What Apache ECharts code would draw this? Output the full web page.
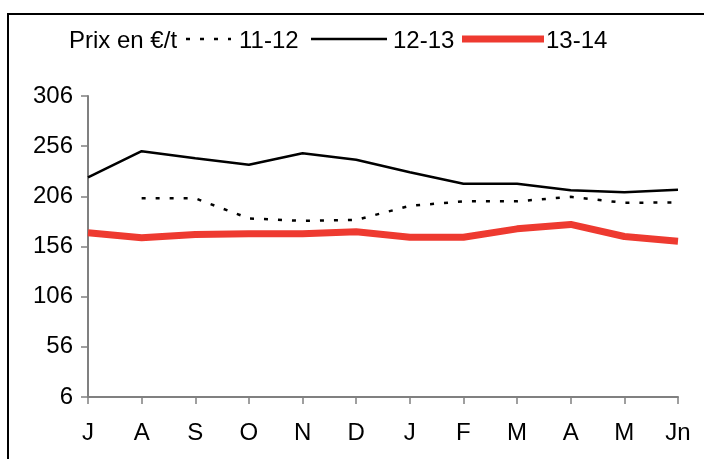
<!DOCTYPE html>
<html>
<head>
<meta charset="utf-8">
<script src="https://cdn.jsdelivr.net/npm/echarts@6/dist/echarts.min.js"></script>
<style>
  html, body { margin: 0; padding: 0; background: #fff; }
  #chart { width: 704px; height: 459px; }
</style>
</head>
<body>
<div id="chart"></div>
<script>
// Monthly prices (€/t) over three marketing years, July to June
const months = ['J', 'A', 'S', 'O', 'N', 'D', 'J', 'F', 'M', 'A', 'M', 'Jn'];
const seriesNames = ['11-12', '12-13', '13-14'];
const prices1112 = [null, 204, 204, 184, 181.5, 182.5, 196.5, 201, 201, 205.5, 199.5, 200];
const prices1213 = [225, 251, 244, 237.5, 249, 242.5, 230, 218.5, 218.5, 212, 210, 212.5];
const prices1314 = [169.7, 164.7, 168, 168.7, 168.7, 170.7, 165.3, 165.3, 173.6, 178, 166, 161.3];
const yTicks = { min: 6, max: 306, step: 50 };
const unitLabel = 'Prix en €/t';

const FONT = 'Liberation Sans, Arial, sans-serif';
const AXIS_GREY = '#808080';
const RED = '#EE3A30';

const chart = echarts.init(document.getElementById('chart'), null, { renderer: 'canvas' });

// Hand-placed legend: unit label, then a line sample and name per season
function legendItem(x1, x2, textX, style, name) {
  return [
    { type: 'line', shape: { x1: x1, y1: 39, x2: x2, y2: 39 }, style: style, silent: true },
    { type: 'text', x: textX, y: 41, style: { text: name, font: '24px ' + FONT, fill: '#000', verticalAlign: 'middle' } }
  ];
}

const graphics = [
  // outer frame of the chart area
  { type: 'rect', shape: { x: 8, y: 14, width: 800, height: 600 }, style: { fill: 'none', stroke: '#000', lineWidth: 2 }, silent: true },
  { type: 'text', x: 69, y: 41, style: { text: unitLabel, font: '24px ' + FONT, fill: '#000', verticalAlign: 'middle' } }
].concat(
  legendItem(186, 231, 239, { stroke: '#000', lineWidth: 2.5, lineDash: [4, 10] }, seriesNames[0]),
  legendItem(311, 387, 393, { stroke: '#000', lineWidth: 2.5 }, seriesNames[1]),
  legendItem(462, 544, 546, { stroke: RED, lineWidth: 7 }, seriesNames[2])
);

chart.setOption({
  animation: false,
  backgroundColor: '#fff',
  textStyle: { fontFamily: FONT },
  grid: { left: 88, right: 26, top: 96, bottom: 62, containLabel: false },
  xAxis: {
    type: 'category',
    data: months,
    boundaryGap: false,
    axisLine: { lineStyle: { color: AXIS_GREY, width: 2 } },
    axisTick: { show: true, length: 7, lineStyle: { color: AXIS_GREY, width: 1.5 } },
    axisLabel: { color: '#000', fontSize: 24, margin: 24, interval: 0 },
    splitLine: { show: false }
  },
  yAxis: {
    type: 'value',
    min: yTicks.min,
    max: yTicks.max,
    interval: yTicks.step,
    axisLine: { show: true, lineStyle: { color: AXIS_GREY, width: 2 } },
    axisTick: { show: true, length: 7, lineStyle: { color: AXIS_GREY, width: 1.5 } },
    axisLabel: { color: '#000', fontSize: 24, margin: 15 },
    splitLine: { show: false }
  },
  series: [
    {
      name: seriesNames[0], type: 'line', data: prices1112, symbol: 'none', connectNulls: false,
      lineStyle: { color: '#000', width: 2.5, type: [4, 10] }, z: 3
    },
    {
      name: seriesNames[1], type: 'line', data: prices1213, symbol: 'none',
      lineStyle: { color: '#000', width: 2.5 }, z: 3
    },
    {
      name: seriesNames[2], type: 'line', data: prices1314, symbol: 'none',
      lineStyle: { color: RED, width: 7 }, z: 4
    }
  ],
  graphic: graphics
});
</script>
</body>
</html>
